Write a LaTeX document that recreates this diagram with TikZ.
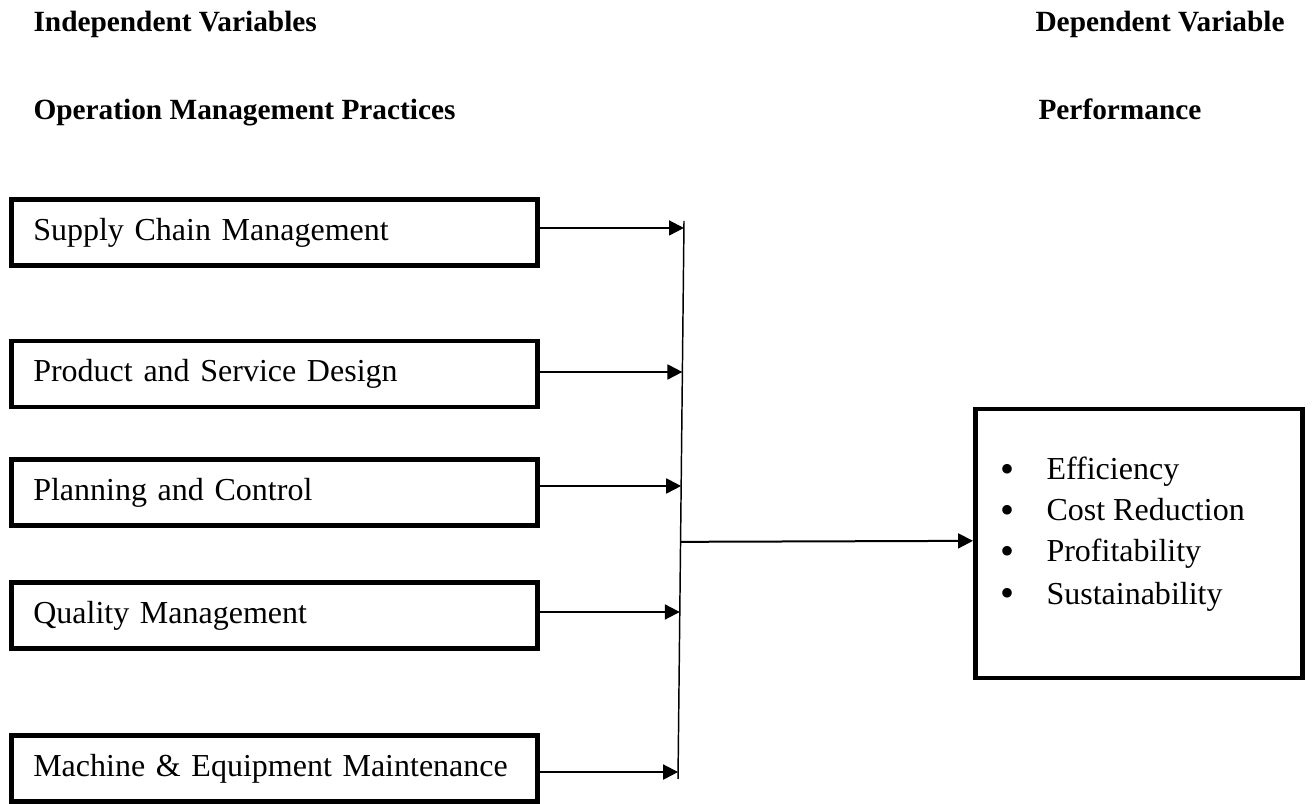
\documentclass[tikz,border=0pt]{standalone}
\usepackage{fontspec}
\setmainfont{Liberation Serif}
\usetikzlibrary{calc,arrows.meta}
\newcommand{\bul}{\makebox[17.25pt][l]{\raisebox{-0.9pt}{\fontsize{15}{15}\selectfont •}}}
\begin{document}
\begin{tikzpicture}[x=0.375pt,y=-0.375pt,
  box/.style={draw, line width=1.7pt, minimum width=197.4pt, minimum height=24.9pt,
    text width=180.9pt, inner xsep=8.25pt, inner ysep=0pt, align=left,
    font=\fontsize{12}{14}\selectfont},
  outbox/.style={draw, line width=1.7pt, minimum width=122.8pt, minimum height=100.7pt, inner sep=0pt},
  head/.style={anchor=base west, inner sep=0pt, font=\fontsize{11}{13}\selectfont\bfseries},
  item/.style={anchor=base west, inner sep=0pt, font=\fontsize{12}{14}\selectfont},
  arr/.style={line width=0.75pt, -{Triangle[length=5.6pt,width=5.6pt]}},
  vline/.style={line width=0.55pt}]
\useasboundingbox (0,0) rectangle (1312,804);
% headings
\node[head] (h1) at (33,32) {Independent Variables};
\node[head] (h2) at (33,120) {Operation Management Practices};
\node[head] (h3) at (1035,32) {Dependent Variable};
\node[head] (h4) at (1038,120) {Performance};
% boxes
\node[box] (b1) at (274.5,232.5) {Supply Chain Management};
\node[box] (b2) at (274.5,374) {Product and Service Design};
\node[box] (b3) at (274.5,492.5) {Planning and Control};
\node[box] (b4) at (274.5,615.5) {Quality Management};
\node[box] (b5) at (274.5,768.5) {Machine \& Equipment Maintenance};
% collector line
\coordinate (vt) at (684,221);
\coordinate (vb) at (678,779);
\draw[vline] (vt) -- (vb);
\foreach \i/\t in {1/0.0125,2/0.2706,3/0.4749,4/0.7007,5/0.9875}{
  \coordinate (a\i) at ($(vt)!\t!(vb)$);
  \draw[arr] (b\i.east |- a\i) -- (a\i);
}
% result box
\node[outbox] (rb) at (1139,543.5) {};
\coordinate (vc) at ($(vt)!0.575!(vb)$);
\draw[arr] (vc) -- ($(rb.west |- vc)+(0,-1)$);
\node[item] (l1) at (1000,480) {\bul Efficiency};
\node[item] (l2) at (1000,521) {\bul Cost Reduction};
\node[item] (l3) at (1000,562) {\bul Profitability};
\node[item] (l4) at (1000,604) {\bul Sustainability};
\end{tikzpicture}
\end{document}
